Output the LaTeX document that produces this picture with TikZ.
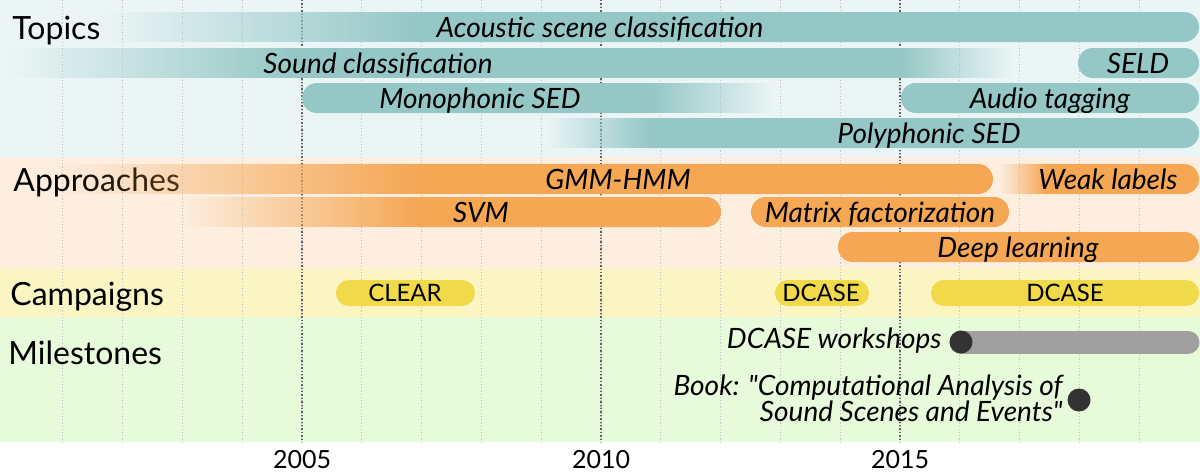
\documentclass[tikz,border=0pt]{standalone}
\usepackage{fontspec}
\setmainfont{Lato}
\usepackage{tikz}
\usetikzlibrary{fadings}
\definecolor{topicbg}{RGB}{236,245,246}
\definecolor{topicbar}{RGB}{148,199,198}
\definecolor{approbg}{RGB}{253,238,224}
\definecolor{approbar}{RGB}{245,167,84}
\definecolor{campbg}{RGB}{251,245,196}
\definecolor{campbar}{RGB}{241,218,74}
\definecolor{milebg}{RGB}{231,250,218}
\definecolor{milebar}{RGB}{160,160,160}
\definecolor{miledot}{RGB}{51,51,51}
\tikzfading[name=fadein, left color=transparent!100, right color=transparent!0]
\tikzfading[name=fadeout, left color=transparent!0, right color=transparent!100]
\tikzset{
  rowlabel/.style={anchor=base west, inner sep=0pt, font=\fontsize{16}{19}\selectfont},
  barlabel/.style={anchor=base, inner sep=0pt, font=\itshape\fontsize{14}{13}\selectfont},
  camplabel/.style={anchor=base, inner sep=0pt, font=\fontsize{12}{13}\selectfont},
  yearlabel/.style={anchor=base, inner sep=0pt, font=\fontsize{12.5}{15}\selectfont},
  minorgrid/.style={draw=black!22, densely dotted, line width=0.6pt},
  majorgrid/.style={draw=black!62, densely dotted, line width=0.7pt},
  pill/.style={rounded corners=7.4pt},
  smallpill/.style={rounded corners=6.4pt},
}

\begin{document}
\begin{tikzpicture}[x=0.5pt,y=-0.5pt]
\useasboundingbox (0,0) rectangle (1200,472);
%bands
\fill[white] (0,0) rectangle (1200,472);
\fill[topicbg] (0,0) rectangle (1200,157);
\fill[approbg] (0,157) rectangle (1200,268);
\fill[campbg] (0,268) rectangle (1200,317);
\fill[milebg] (0,317) rectangle (1200,442);
%years
\foreach \yr in {1,...,19}
  \draw[minorgrid] ({3+\yr*59.8},0) -- ({3+\yr*59.8},442);
\foreach \yr in {5,10,15}
  \draw[majorgrid] ({3+\yr*59.8},0) -- ({3+\yr*59.8},442);
\node[yearlabel] (y2005) at (302,468) {2005};
\node[yearlabel] (y2010) at (601,468) {2010};
\node[yearlabel] (y2015) at (900,468) {2015};

\node[rowlabel] (topics) at (12,39) {Topics};
\node[rowlabel] (approaches) at (13,191) {Approaches};
\node[rowlabel] (campaigns) at (10,305) {Campaigns};
\node[rowlabel] (milestones) at (8,364) {Milestones};

%topics
\fill[topicbar, path fading=fadein] (100,12) rectangle (421,42);
\fill[topicbar] (420,42) -- (1184,42) arc[start angle=-90,end angle=90,radius=7.5pt] -- (420,12) -- cycle;
\node[barlabel] (acoustic) at (600,37) {Acoustic scene classification};

\fill[topicbar, path fading=fadein] (8,48) rectangle (301,78);
\fill[topicbar] (300,48) rectangle (900,78);
\fill[topicbar, path fading=fadeout] (899,48) rectangle (1013,78);
\node[barlabel] (sound) at (378,73) {Sound classification};
\fill[topicbar, pill] (1078,48) rectangle (1199,78);
\node[barlabel] (seld) at (1138,73) {SELD};

\fill[topicbar] (651,83) -- (317,83) arc[start angle=90,end angle=270,radius=7.5pt] -- (651,113) -- cycle;
\fill[topicbar, path fading=fadeout] (650,83) rectangle (775,113);
\node[barlabel] (mono) at (480,108) {Monophonic SED};
\fill[topicbar, pill] (901,83) rectangle (1199,113);
\node[barlabel] (tagging) at (1050,108) {Audio tagging};

\fill[topicbar, path fading=fadein] (545,118) rectangle (651,148);
\fill[topicbar] (650,148) -- (1184,148) arc[start angle=-90,end angle=90,radius=7.5pt] -- (650,118) -- cycle;
\node[barlabel] (poly) at (929,143) {Polyphonic SED};

%approaches
\fill[approbar, path fading=fadein] (55,164) rectangle (421,194);
\fill[approbar] (420,194) -- (978,194) arc[start angle=-90,end angle=90,radius=7.5pt] -- (420,164) -- cycle;
\node[barlabel] (gmm) at (618,189) {GMM-HMM};
\fill[approbar, path fading=fadein] (1000,164) rectangle (1046,194);
\fill[approbar] (1045,194) -- (1184,194) arc[start angle=-90,end angle=90,radius=7.5pt] -- (1045,164) -- cycle;
\node[barlabel] (weak) at (1108,189) {Weak labels};

\fill[approbar, path fading=fadein] (180,197) rectangle (421,227);
\fill[approbar] (420,227) -- (706,227) arc[start angle=-90,end angle=90,radius=7.5pt] -- (420,197) -- cycle;
\node[barlabel] (svm) at (481,222) {SVM};
\fill[approbar, pill] (751,197) rectangle (1009,227);
\node[barlabel] (matrix) at (880,222) {Matrix factorization};

\fill[approbar, pill] (838,232) rectangle (1199,262);
\node[barlabel] (deep) at (1018,257) {Deep learning};

%campaigns
\fill[campbar, smallpill] (336,280) rectangle (475,306);
\node[camplabel] (clear) at (405,301) {CLEAR};
\fill[campbar, smallpill] (775,280) rectangle (869,306);
\node[camplabel] (dcasea) at (821,301) {DCASE};
\fill[campbar, smallpill] (931,280) rectangle (1199,306);
\node[camplabel] (dcaseb) at (1065,301) {DCASE};

%milestones
\draw[milebar, line width=11.5pt, line cap=round] (961,342) -- (1188,342);
\fill[miledot] (961,342) circle (5.75pt);
\node[barlabel, anchor=east] (workshops) at (942,341) {DCASE workshops};
\fill[miledot] (1079,400) circle (5.75pt);
\node[barlabel, anchor=east, align=right] (book) at (1063,398) {Book: \textquotedbl Computational Analysis of\\Sound Scenes and Events\textquotedbl};
\end{tikzpicture}
\end{document}
